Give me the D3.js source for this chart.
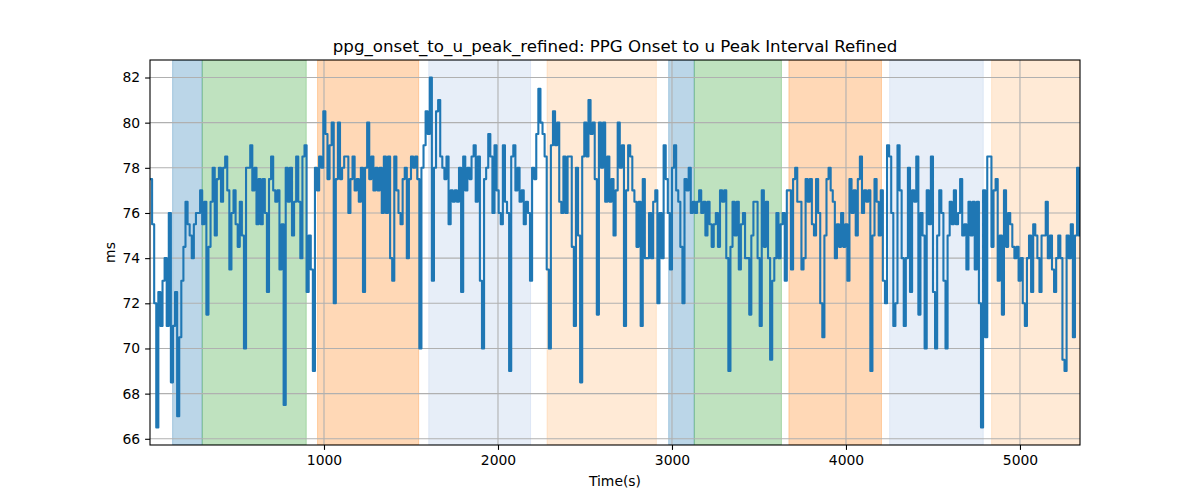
<!DOCTYPE html>
<html>
<head>
<meta charset="utf-8">
<script src="https://cdn.jsdelivr.net/npm/d3@7"></script>
<style>
  html, body { margin: 0; padding: 0; background: #fff; }
  svg { display: block; font-family: "DejaVu Sans", sans-serif; }
</style>
</head>
<body>
<svg id="chart" width="1200" height="500"></svg>
<script>
// ---- data ----
const chartTitle = "ppg_onset_to_u_peak_refined: PPG Onset to u Peak Interval Refined";
const xLabel = "Time(s)";
const yLabel = "ms";
const sampleStep = 12; // seconds between samples
const values = [
  77.5, 75.5, 72, 66.5, 72.5, 71, 73, 74, 71, 76,
  68.5, 71, 72.5, 67, 70.5, 73, 74.5, 76.5, 75.5, 75,
  74, 75.5, 76, 76, 77, 75.5, 76.5, 71.5, 74.5, 76.5,
  78, 75, 77.5, 78, 76.5, 78, 78.5, 77, 73.5, 76,
  77, 75.5, 74.5, 76.5, 75, 70, 78, 78, 79, 77,
  78, 75.5, 77.5, 75.5, 77.5, 76, 72.5, 77.5, 78.5, 77,
  76.5, 77, 73.5, 75.5, 67.5, 78, 76.5, 78, 75, 76.5,
  78.5, 76.5, 74, 78.5, 79, 72.5, 75, 73.5, 69, 78,
  77, 78.5, 78, 80.5, 79.5, 77.5, 79, 80, 72, 77.5,
  80, 77.5, 78, 78.5, 78.5, 76, 77.5, 78.5, 77, 77.5,
  76.5, 78, 72.5, 78, 80, 77.5, 78.5, 77, 78, 77,
  78, 76, 78.5, 76, 78.5, 74, 73, 78.5, 77, 76,
  75.5, 77.5, 78, 74, 77.5, 78.5, 78, 78.5, 77.5, 70,
  78, 79, 80.5, 79.5, 82, 73, 78, 80.5, 81, 78.5,
  78, 77.5, 78.5, 75.5, 77, 76.5, 77, 76.5, 78, 72.5,
  78.5, 77, 78, 77.5, 78.5, 79, 76.5, 78.5, 73, 70,
  77.5, 78, 79.5, 78.5, 76, 79, 77, 76, 75.5, 79,
  76.5, 76, 69, 78.5, 79, 77, 78, 76.5, 77, 75.5,
  76.5, 76, 73, 78, 77.5, 79.5, 81.5, 80, 79.5, 78.5,
  73.5, 70, 79, 80.5, 79, 80, 76.5, 76, 78.5, 76,
  78.5, 78.5, 74.5, 71, 78, 75, 68.5, 78.5, 80, 78.5,
  81, 79.5, 80, 77.5, 71.5, 80, 78, 80, 76.5, 78.5,
  76.5, 77.5, 75, 77, 80, 78, 79, 71, 77, 79,
  78.5, 77, 76.5, 74.5, 76.5, 71, 77.5, 74, 74, 76,
  74, 76.5, 77, 72, 76, 74, 79, 77.5, 76, 73.5,
  78, 79, 77, 76.5, 74.5, 72, 77.5, 77, 78, 76,
  76.5, 76, 76.5, 77, 76, 76.5, 75, 76.5, 75.5, 74.5,
  75.5, 76, 74.5, 77, 76.5, 77, 74, 69, 74.5, 76.5,
  75, 76.5, 73.5, 75.5, 76, 74, 74, 71.5, 75, 76.5,
  76.5, 74, 71, 77, 74.5, 76.5, 74, 69.5, 73, 74,
  76, 74, 75.5, 76, 73, 77, 77, 73.5, 77.5, 78,
  76.5, 76.5, 73.5, 74, 77.5, 76.5, 77.5, 75.5, 75, 77.5,
  76, 72, 70.5, 75, 77.5, 78, 77, 76.5, 74, 75.5,
  74.5, 76, 74.5, 75.5, 73, 77.5, 76, 77, 75, 77.5,
  78.5, 76, 77, 76.5, 77, 69, 75, 77.5, 76.5, 75,
  77, 73, 72, 79, 78.5, 76, 71, 72, 79, 77,
  74, 71, 74, 78, 72.5, 77, 76.5, 78.5, 71.5, 76,
  75, 70, 77, 75.5, 78.5, 72.5, 70, 75, 77, 76,
  73, 70, 75, 76.5, 75.5, 77, 75.5, 76, 77.5, 75,
  75.5, 73.5, 76.5, 75, 76.5, 73.5, 76.5, 72, 66.5, 77,
  70.5, 78.5, 78.5, 74.5, 77, 77.5, 73, 75, 71.5, 77,
  74.5, 76, 75.5, 74.5, 74, 74.5, 73, 74, 72, 71,
  74, 75, 72.5, 75.5, 75, 74, 72.5, 75, 75, 76.5,
  74, 75, 73.5, 72.5, 74, 75, 74, 69.5, 69, 75,
  74, 75.5, 70.5, 75, 78, 75
];
const spanStarts = [130, 300, 963, 1602, 2282, 2981, 3128, 3672, 4251, 4837];
const spanEnds   = [300, 898, 1544, 2187, 2910, 3128, 3629, 4204, 4789, 5345];
const spanColors = ["#1f77b4", "#2ca02c", "#ff7f0e", "#aec7e8", "#ffbb78",
                    "#1f77b4", "#2ca02c", "#ff7f0e", "#aec7e8", "#ffbb78"];
const xTicks = [1000, 2000, 3000, 4000, 5000];
const yTicks = [66, 68, 70, 72, 74, 76, 78, 80, 82];
const xDomain = [0, 5345];
const yDomain = [65.725, 82.775];

// ---- layout ----
const W = 1200, H = 500;
const m = { left: 150, right: 120, top: 60, bottom: 55 };
const iw = W - m.left - m.right, ih = H - m.top - m.bottom;

const svg = d3.select("#chart");
const x = d3.scaleLinear().domain(xDomain).range([m.left, m.left + iw]);
const y = d3.scaleLinear().domain(yDomain).range([m.top + ih, m.top]);

svg.append("defs").append("clipPath").attr("id", "clip")
  .append("rect").attr("x", m.left).attr("y", m.top).attr("width", iw).attr("height", ih);

const plot = svg.append("g").attr("clip-path", "url(#clip)");

// spans
const spans = spanStarts.map((s, i) => ({ s, e: spanEnds[i], c: spanColors[i] }));
plot.selectAll("rect.span").data(spans).enter().append("rect")
  .attr("class", "span")
  .attr("x", d => x(d.s)).attr("width", d => x(d.e) - x(d.s))
  .attr("y", m.top).attr("height", ih)
  .attr("fill", d => d.c).attr("fill-opacity", 0.3)
  .attr("stroke", d => d.c).attr("stroke-opacity", 0.3).attr("stroke-width", 1);

// grid
const gx = svg.append("g");
gx.selectAll("line.vg").data(xTicks).enter().append("line")
  .attr("x1", d => x(d)).attr("x2", d => x(d))
  .attr("y1", m.top).attr("y2", m.top + ih)
  .attr("stroke", "#b0b0b0").attr("stroke-width", 1.1);
gx.selectAll("line.hg").data(yTicks).enter().append("line")
  .attr("y1", d => y(d)).attr("y2", d => y(d))
  .attr("x1", m.left).attr("x2", m.left + iw)
  .attr("stroke", "#b0b0b0").attr("stroke-width", 1.1);

// line
const pts = values.map((v, i) => [i * sampleStep, v]);
const line = d3.line().curve(d3.curveStepAfter).x(d => x(d[0])).y(d => y(d[1]));
svg.append("g").attr("clip-path", "url(#clip)")
  .append("path").datum(pts)
  .attr("d", line).attr("fill", "none")
  .attr("stroke", "#1f77b4").attr("stroke-width", 2.1)
  .attr("stroke-linejoin", "round").attr("stroke-linecap", "square");

// axes
const xAxis = d3.axisBottom(x).tickValues(xTicks).tickSize(4.9).tickPadding(4.9).tickFormat(d3.format("d"));
const yAxis = d3.axisLeft(y).tickValues(yTicks).tickSize(4.9).tickPadding(4.9).tickFormat(d3.format("d"));
const ax = svg.append("g").attr("transform", `translate(0,${m.top + ih})`).call(xAxis);
const ay = svg.append("g").attr("transform", `translate(${m.left},0)`).call(yAxis);
[ax, ay].forEach(g => {
  g.select(".domain").remove();
  g.selectAll(".tick line").attr("stroke", "#000").attr("stroke-width", 1.1);
  g.selectAll(".tick text").attr("fill", "#000").attr("font-size", "13.9px")
    .attr("font-family", "DejaVu Sans, sans-serif");
});
ax.selectAll(".tick text").attr("dy", "0.75em");

// spines
svg.append("rect").attr("x", m.left).attr("y", m.top).attr("width", iw).attr("height", ih)
  .attr("fill", "none").attr("stroke", "#000").attr("stroke-width", 1.1);

// titles
svg.append("text").attr("x", m.left + iw / 2).attr("y", 52)
  .attr("text-anchor", "middle").attr("font-size", "16.67px").attr("fill", "#000")
  .text(chartTitle);
svg.append("text").attr("x", m.left + iw / 2).attr("y", 486)
  .attr("text-anchor", "middle").attr("font-size", "13.9px").attr("fill", "#000")
  .text(xLabel);
svg.append("text").attr("transform", `translate(115,${m.top + ih / 2}) rotate(-90)`)
  .attr("text-anchor", "middle").attr("font-size", "13.9px").attr("fill", "#000")
  .text(yLabel);
</script>
</body>
</html>
